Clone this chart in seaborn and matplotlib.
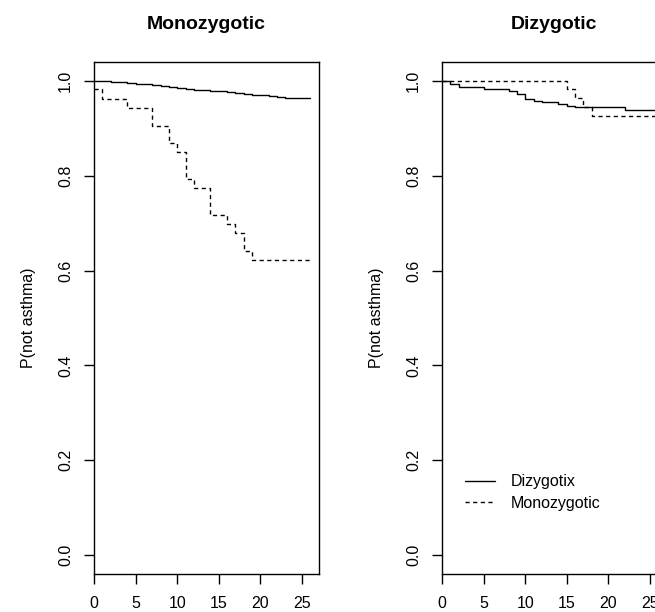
import matplotlib
matplotlib.use("Agg")
import matplotlib.pyplot as plt
import seaborn as sns
import pandas as pd
from matplotlib.lines import Line2D

# ===============================
# style
# ===============================
sns.set_theme(style="white")
plt.rcParams['font.family'] = ['Liberation Sans', 'DejaVu Sans']
plt.rcParams['axes.edgecolor'] = 'black'
plt.rcParams['axes.linewidth'] = 1.0
plt.rcParams['text.color'] = 'black'

# ===============================
# data
# ===============================
# left panel: Monozygotic
mz_solid_t = [0, 1, 2, 3, 4, 5, 6, 7, 8, 9, 10, 11, 12, 13, 14, 15, 16, 17, 18, 19, 20, 21, 22, 23, 26]
mz_solid_s = [1.000, 0.999, 0.998, 0.997, 0.995, 0.994, 0.993, 0.991, 0.989, 0.987, 0.985, 0.983, 0.981,
              0.980, 0.979, 0.978, 0.976, 0.974, 0.972, 0.971, 0.970, 0.969, 0.967, 0.965, 0.965]
mz_dash_t = [0, 1, 4, 7, 9, 10, 11, 12, 14, 16, 17, 18, 19, 26]
mz_dash_s = [0.982, 0.962, 0.944, 0.906, 0.869, 0.850, 0.794, 0.775, 0.718, 0.699, 0.680, 0.642, 0.623, 0.623]

# right panel: Dizygotic
dz_solid_t = [0, 1, 2, 5, 8, 9, 10, 11, 12, 14, 15, 16, 22, 27]
dz_solid_s = [1.000, 0.993, 0.988, 0.982, 0.978, 0.972, 0.961, 0.958, 0.955, 0.952, 0.948, 0.945, 0.938, 0.938]
dz_dash_t = [0, 15, 16, 17, 18, 27]
dz_dash_s = [1.000, 0.982, 0.964, 0.946, 0.926, 0.926]

titles = ['Monozygotic', 'Dizygotic']
legend_labels = ['Dizygotix', 'Monozygotic']
x_ticks = [0, 5, 10, 15, 20, 25]
y_ticks = [0.0, 0.2, 0.4, 0.6, 0.8, 1.0]

DASH = (0, (3, 2.5))

# ===============================
# figure
# ===============================
W, H = 655, 612
fig = plt.figure(figsize=(W / 100, H / 100), dpi=100)
ax_l = fig.add_axes([94 / W, 38 / H, 225 / W, 512 / H])
ax_r = fig.add_axes([442 / W, 38 / H, 225 / W, 512 / H])

panels = [
    (ax_l, mz_solid_t, mz_solid_s, mz_dash_t, mz_dash_s),
    (ax_r, dz_solid_t, dz_solid_s, dz_dash_t, dz_dash_s),
]

for (ax, st, ss, dt, ds), title in zip(panels, titles):
    solid = pd.DataFrame({'t': st, 's': ss})
    dash = pd.DataFrame({'t': dt, 's': ds})
    sns.lineplot(data=solid, x='t', y='s', ax=ax, color='black', lw=1.0,
                 drawstyle='steps-post', estimator=None)
    sns.lineplot(data=dash, x='t', y='s', ax=ax, color='black', lw=1.0,
                 drawstyle='steps-post', estimator=None, linestyle=DASH)

    ax.set_xlim(0, 27.04)
    ax.set_ylim(-0.04, 1.04)
    ax.set_xticks(x_ticks)
    ax.set_xticklabels([str(v) for v in x_ticks])
    ax.set_yticks(y_ticks)
    ax.set_yticklabels([f'{v:.1f}' for v in y_ticks], rotation=90, va='center')
    ax.tick_params(axis='both', which='major', direction='out', length=7, width=1.0,
                   color='black', labelsize=11.5, labelcolor='black', bottom=True, left=True)
    ax.tick_params(axis='x', pad=9)
    ax.tick_params(axis='y', pad=8)
    ax.set_xlabel('')
    ax.set_ylabel('P(not asthma)', fontsize=11.5, color='black')
    ax.yaxis.set_label_coords(-0.26, 0.5)
    ax.set_title(title, fontsize=14, fontweight='bold', color='black', pad=24)
    for sp in ax.spines.values():
        sp.set_visible(True)
        sp.set_color('black')
        sp.set_linewidth(1.0)
    ax.grid(False)

handles = [Line2D([], [], color='black', lw=1.0),
           Line2D([], [], color='black', lw=1.0, linestyle=DASH)]
ax_r.legend(handles, legend_labels, loc='upper left', bbox_to_anchor=(0.10, 0.195),
            frameon=False, fontsize=11.5, handlelength=1.9, handletextpad=1.0,
            labelspacing=0.4, borderpad=0, borderaxespad=0, labelcolor='black')

fig.savefig('out.png', dpi=100)
